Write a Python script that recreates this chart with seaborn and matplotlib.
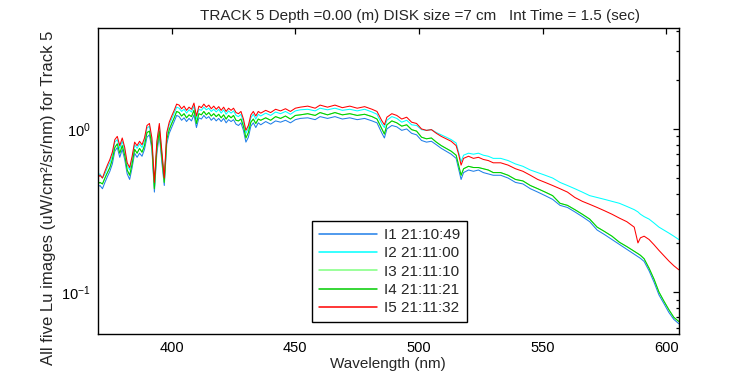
import numpy as np
import pandas as pd
import matplotlib
matplotlib.use("Agg")
import matplotlib.pyplot as plt
import seaborn as sns

# ========== Data ==========
wavelength = [
    370, 371, 372, 373, 374, 375, 376, 377, 378, 379, 380, 381, 382, 383, 384,
    385, 386, 387, 388, 389, 390, 391, 392, 393, 394, 395, 396, 397, 398, 399,
    400, 401, 402, 403, 404, 405, 406, 407, 408, 409, 410, 411, 412, 413, 414,
    415, 416, 417, 418, 419, 420, 421, 422, 423, 424, 425, 426, 427, 428, 429,
    430, 431, 432, 433, 434, 435, 436, 438, 440, 442, 444, 446, 448, 450, 452,
    455, 458, 460, 463, 466, 469, 472, 475, 478, 481, 483, 485, 486, 487, 489,
    491, 493, 495, 497, 499, 501, 503, 505, 507, 509, 511, 513, 515, 516, 517,
    518, 520, 522, 524, 526, 528, 530, 533, 536, 539, 542, 545, 548, 551, 554,
    557, 560, 563, 566, 569, 572, 575, 578, 581, 584, 587, 588.5, 589.5, 591, 593,
    595, 597, 599, 601, 603, 605,
]

i1 = [  # blue
    .44, .45, .43, .47, .51, .55, .61, .73, .77, .67, .75, .65, .53, .49, .58,
    .71, .67, .71, .68, .75, .89, .92, .75, .41, .71, .92, .63, .45, .81, .94,
    1.02, 1.11, 1.21, 1.19, 1.13, 1.17, 1.11, 1.16, 1.12, 1.22, 1.02, 1.17, 1.15, 1.21, 1.16,
    1.19, 1.13, 1.17, 1.12, 1.16, 1.11, 1.16, 1.09, 1.14, 1.11, 1.14, 1.07, 1.05, 1.09, .98,
    .83, .89, 1.04, 1.09, 1.02, 1.09, 1.06, 1.11, 1.07, 1.12, 1.10, 1.13, 1.09, 1.14, 1.16,
    1.17, 1.14, 1.19, 1.16, 1.19, 1.15, 1.17, 1.14, 1.16, 1.12, 1.09, .94, .88, 1.00, 1.05,
    1.03, .98, 1.00, .94, .92, .85, .83, .84, .80, .76, .73, .70, .66, .57, .49,
    .54, .56, .55, .56, .54, .53, .52, .52, .50, .47, .46, .43, .41, .39, .37,
    .34, .33, .31, .29, .27, .24, .225, .21, .196, .183, .171, .165, .161, .154, .135,
    .115, .096, .085, .075, .068, .064,
]

i2 = [  # cyan
    .52, .53, .50, .53, .58, .62, .69, .83, .86, .76, .84, .74, .60, .56, .65,
    .80, .76, .81, .77, .84, 1.01, 1.04, .84, .45, .81, 1.04, .71, .49, .91, 1.06,
    1.15, 1.25, 1.36, 1.34, 1.28, 1.32, 1.25, 1.31, 1.27, 1.38, 1.15, 1.32, 1.30, 1.36, 1.31,
    1.34, 1.28, 1.32, 1.27, 1.32, 1.25, 1.31, 1.23, 1.29, 1.25, 1.29, 1.21, 1.19, 1.23, 1.10,
    .94, 1.01, 1.17, 1.23, 1.15, 1.23, 1.20, 1.25, 1.21, 1.27, 1.24, 1.28, 1.23, 1.29, 1.31,
    1.32, 1.29, 1.34, 1.31, 1.34, 1.30, 1.32, 1.29, 1.32, 1.27, 1.23, 1.07, 1.02, 1.13, 1.19,
    1.16, 1.10, 1.13, 1.06, 1.05, .99, .98, .99, .95, .92, .89, .86, .82, .72, .63,
    .69, .71, .70, .71, .69, .68, .66, .66, .64, .61, .59, .56, .54, .52, .50,
    .47, .45, .43, .41, .39, .38, .37, .36, .35, .335, .32, .31, .30, .29, .28,
    .265, .25, .24, .23, .22, .21,
]

i3 = [  # light green
    .46, .47, .46, .50, .54, .58, .65, .77, .81, .71, .79, .69, .56, .52, .61,
    .75, .71, .76, .72, .79, .95, .97, .79, .43, .76, .97, .67, .47, .86, .99,
    1.08, 1.17, 1.28, 1.26, 1.20, 1.24, 1.17, 1.22, 1.19, 1.30, 1.08, 1.24, 1.22, 1.28, 1.22,
    1.26, 1.20, 1.24, 1.19, 1.23, 1.17, 1.22, 1.15, 1.21, 1.17, 1.21, 1.13, 1.12, 1.15, 1.04,
    .88, .95, 1.10, 1.15, 1.08, 1.15, 1.13, 1.17, 1.13, 1.19, 1.16, 1.20, 1.15, 1.21, 1.22,
    1.24, 1.21, 1.26, 1.22, 1.26, 1.22, 1.24, 1.21, 1.23, 1.19, 1.15, 1.00, .93, 1.06, 1.12,
    1.09, 1.04, 1.06, .99, .97, .89, .87, .88, .83, .79, .76, .73, .69, .60, .52,
    .57, .59, .58, .58, .57, .56, .54, .54, .52, .49, .48, .45, .43, .41, .39,
    .35, .34, .32, .30, .28, .25, .235, .22, .202, .19, .178, .172, .168, .16, .14,
    .12, .10, .088, .078, .07, .066,
]

i4 = [  # green
    .46, .47, .46, .50, .54, .58, .65, .77, .81, .71, .79, .69, .56, .52, .61,
    .75, .71, .76, .72, .79, .95, .97, .79, .43, .76, .97, .67, .47, .86, .99,
    1.08, 1.17, 1.28, 1.26, 1.20, 1.24, 1.17, 1.22, 1.19, 1.30, 1.08, 1.24, 1.22, 1.28, 1.22,
    1.26, 1.20, 1.24, 1.19, 1.23, 1.17, 1.22, 1.15, 1.21, 1.17, 1.21, 1.13, 1.12, 1.15, 1.04,
    .88, .95, 1.10, 1.15, 1.08, 1.15, 1.13, 1.17, 1.13, 1.19, 1.16, 1.20, 1.15, 1.21, 1.22,
    1.24, 1.21, 1.26, 1.22, 1.26, 1.22, 1.24, 1.21, 1.23, 1.19, 1.15, 1.00, .93, 1.06, 1.12,
    1.09, 1.04, 1.06, .99, .97, .89, .87, .88, .83, .79, .76, .73, .69, .60, .52,
    .57, .59, .58, .58, .57, .56, .54, .54, .52, .49, .48, .45, .43, .41, .39,
    .35, .34, .32, .30, .28, .25, .235, .22, .202, .19, .178, .172, .168, .16, .14,
    .12, .10, .088, .078, .07, .066,
]

i5 = [  # red
    .50, .52, .50, .55, .60, .65, .72, .86, .90, .79, .88, .77, .62, .58, .68,
    .83, .79, .84, .80, .88, 1.05, 1.08, .88, .47, .84, 1.08, .74, .50, .95, 1.10,
    1.20, 1.30, 1.42, 1.40, 1.33, 1.38, 1.30, 1.36, 1.32, 1.44, 1.20, 1.38, 1.35, 1.42, 1.36,
    1.40, 1.33, 1.38, 1.32, 1.37, 1.30, 1.36, 1.28, 1.34, 1.30, 1.34, 1.26, 1.24, 1.28, 1.15,
    .98, 1.05, 1.22, 1.28, 1.20, 1.28, 1.25, 1.30, 1.26, 1.32, 1.29, 1.33, 1.28, 1.34, 1.36,
    1.38, 1.34, 1.40, 1.36, 1.40, 1.35, 1.38, 1.34, 1.37, 1.32, 1.28, 1.12, 1.06, 1.18, 1.24,
    1.21, 1.15, 1.18, 1.10, 1.08, 1.00, .98, .99, .94, .90, .87, .84, .79, .70, .60,
    .66, .68, .66, .67, .65, .64, .62, .62, .60, .57, .55, .52, .49, .47, .45,
    .43, .41, .38, .36, .345, .33, .315, .30, .284, .27, .25, .20, .215, .22, .21,
    .195, .18, .167, .155, .145, .137,
]

labels = ["I1 21:10:49", "I2 21:11:00", "I3 21:11:10", "I4 21:11:21", "I5 21:11:32"]
colors = ["#1f7fe8", "#00ffff", "#80ff80", "#00cc00", "#ff0000"]

title = "TRACK 5 Depth =0.00 (m) DISK size =7 cm   Int Time = 1.5 (sec)"
ylabel = "All five Lu images (uW/cm\u00b2/sr/nm) for Track 5"

# ========== Long table for seaborn ==========
frames = []
for lab, vals in zip(labels, [i1, i2, i3, i4, i5]):
    frames.append(pd.DataFrame({"wl": wavelength, "val": vals, "image": lab}))
df = pd.concat(frames, ignore_index=True)

# ========== Plot ==========
sns.set_theme(style="white")
plt.rcParams["font.family"] = ["Liberation Sans", "DejaVu Sans"]
plt.rcParams["mathtext.fontset"] = "custom"
plt.rcParams["mathtext.rm"] = "Liberation Sans"

fig = plt.figure(figsize=(7.5, 3.75), dpi=100)
ax = fig.add_axes([0.13, 0.11, 0.775, 0.815])

sns.lineplot(data=df, x="wl", y="val", hue="image", palette=colors,
             estimator=None, sort=False, linewidth=0.75, ax=ax, legend=False)

ax.set_yscale("log")
ax.set_xlim(370, 605)
ax.set_ylim(0.0555, 4.15)
ax.set_xticks([400, 450, 500, 550, 600])

for s in ax.spines.values():
    s.set_color("black")
    s.set_linewidth(1.0)
ax.tick_params(which="both", direction="in", top=True, right=True,
               colors="black", labelsize=10.5, pad=5)
ax.tick_params(which="major", length=4, width=0.9)
ax.tick_params(which="minor", length=2.5, width=0.9)
ax.tick_params(axis="x", which="minor", bottom=False, top=False)

ax.set_xlabel("Wavelength (nm)", fontsize=11, labelpad=2)
ax.set_ylabel(ylabel, fontsize=12)
ax.yaxis.set_label_coords(-0.072, 0.445)
ax.set_title(title, fontsize=11, x=0.555, pad=6)

handles = [plt.Line2D([], [], color=c, lw=1.1) for c in colors]
leg = ax.legend(handles, labels, loc="lower center", bbox_to_anchor=(0.503, 0.038),
                fontsize=11, frameon=True, fancybox=False, framealpha=1,
                edgecolor="black", handlelength=3.8, handletextpad=0.45,
                labelspacing=0.28, borderpad=0.45, borderaxespad=0)
leg.get_frame().set_linewidth(1.0)

fig.savefig("out.png", dpi=100)
